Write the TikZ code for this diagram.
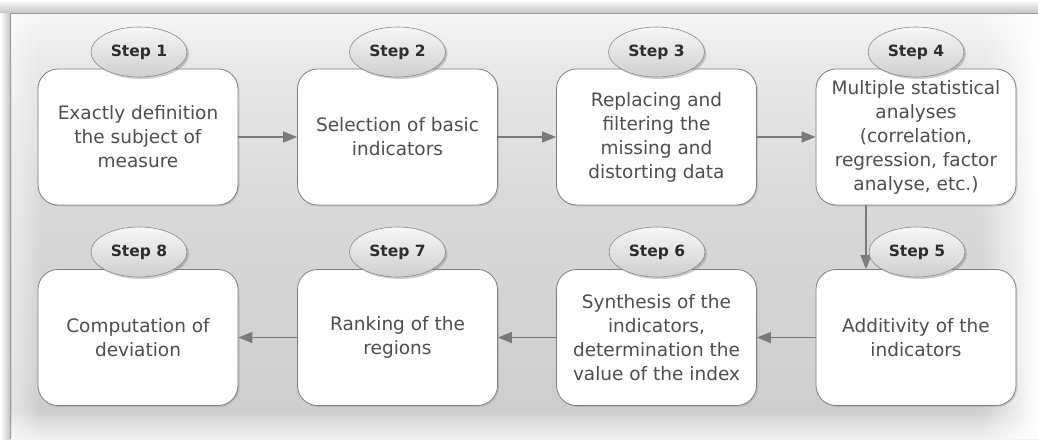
\documentclass[tikz,border=0pt]{standalone}
\usepackage{fontspec}
\setmainfont{DejaVu Sans}
\usetikzlibrary{arrows.meta,shapes.geometric,shadows,fadings}
\definecolor{boxline}{HTML}{7E7E7E}
\definecolor{boxtext}{HTML}{4E4E4E}
\definecolor{labeltext}{HTML}{2E2E2E}
\definecolor{ellline}{HTML}{8A8A8A}
\definecolor{elltop}{HTML}{F6F6F6}
\definecolor{ellbot}{HTML}{CFCFCF}
\definecolor{arrowgray}{HTML}{7A7A7A}
\definecolor{shadowgray}{HTML}{C4C4C4}
\definecolor{framegray}{HTML}{9C9C9C}
\definecolor{bgA}{HTML}{F7F7F7}
\definecolor{bgB}{HTML}{E8E8E8}
\definecolor{bgC}{HTML}{D9D9D9}
\definecolor{bgD}{HTML}{CDCDCD}
\definecolor{bgE}{HTML}{F2F2F2}
\tikzfading[name=fadeR, left color=transparent!100, right color=transparent!0]
\tikzfading[name=fadeL, left color=transparent!0, right color=transparent!100]
\begin{document}
\begin{tikzpicture}[x=1pt,y=-1pt,
  stepbox/.style={draw=boxline, fill=white, rounded corners=20pt,
    minimum width=200pt, minimum height=136pt, inner sep=0pt, align=center,
    font=\fontsize{18.5}{24}\selectfont, text=boxtext, line width=0.8pt,
    drop shadow={shadow xshift=1.5pt, shadow yshift=-1.5pt, opacity=0.25}},
  steplabel/.style={ellipse, draw=ellline, top color=elltop, bottom color=ellbot,
    minimum width=96pt, minimum height=50pt, inner sep=0pt, line width=0.6pt,
    font=\bfseries\fontsize{15.5}{18}\selectfont, text=labeltext,
    drop shadow={shadow xshift=2pt, shadow yshift=-2pt, opacity=0.4}},
  flow/.style={draw=arrowgray, line width=1.3pt, -{Triangle[length=14pt,width=11pt]}}]
\useasboundingbox (0,0) rectangle (1038,439);
% background
\fill[white] (0,0) rectangle (1038,439);
\shade[top color=white, bottom color=shadowgray] (0,0) rectangle (1038,13);
\shade[left color=white, right color=shadowgray] (0,13) rectangle (10,439);
\shade[top color=bgA, bottom color=bgB] (10,13) rectangle (1038,60);
\shade[top color=bgB, bottom color=bgC] (10,60) rectangle (1038,205);
\shade[top color=bgC, bottom color=bgD] (10,205) rectangle (1038,410);
\shade[top color=bgD, bottom color=bgE] (10,410) rectangle (1038,439);
\fill[white, path fading=fadeR] (980,13) rectangle (1038,439);
\fill[white, opacity=0.5, path fading=fadeL] (12,13) rectangle (40,439);
\draw[framegray, line width=1pt] (10,439) -- (10,13) -- (1038,13);
% boxes
\node[stepbox] (b1) at (138,137) {Exactly definition\\the subject of\\measure};
\node[stepbox] (b2) at (397.5,137) {Selection of basic\\indicators};
\node[stepbox] (b3) at (656.5,137) {Replacing and\\filtering the\\missing and\\distorting data};
\node[stepbox] (b4) at (916,137) {Multiple statistical\\analyses\\(correlation,\\regression, factor\\analyse, etc.)};
\node[stepbox] (b5) at (916,337.5) {Additivity of the\\indicators};
\node[stepbox] (b6) at (656.5,337.5) {Synthesis of the\\indicators,\\determination the\\value of the index};
\node[stepbox] (b7) at (397.5,337.5) {Ranking of the\\regions};
\node[stepbox] (b8) at (138,337.5) {Computation of\\deviation};
% connectors
\draw[flow] (b1.east) -- (b2.west);
\draw[flow] (b2.east) -- (b3.west);
\draw[flow] (b3.east) -- (b4.west);
\draw[flow] ([xshift=-50pt]b4.south) -- ([xshift=-50pt]b5.north);
\draw[flow] (b5.west) -- (b6.east);
\draw[flow] (b6.west) -- (b7.east);
\draw[flow] (b7.west) -- (b8.east);
% step labels
\node[steplabel] (s1) at (139,52) {Step 1};
\node[steplabel] (s2) at (397.5,52) {Step 2};
\node[steplabel] (s3) at (656.5,52) {Step 3};
\node[steplabel] (s4) at (916,52) {Step 4};
\node[steplabel] (s5) at (917,252) {Step 5};
\node[steplabel] (s6) at (657,252) {Step 6};
\node[steplabel] (s7) at (397.5,252) {Step 7};
\node[steplabel] (s8) at (139,252) {Step 8};
\end{tikzpicture}
\end{document}
